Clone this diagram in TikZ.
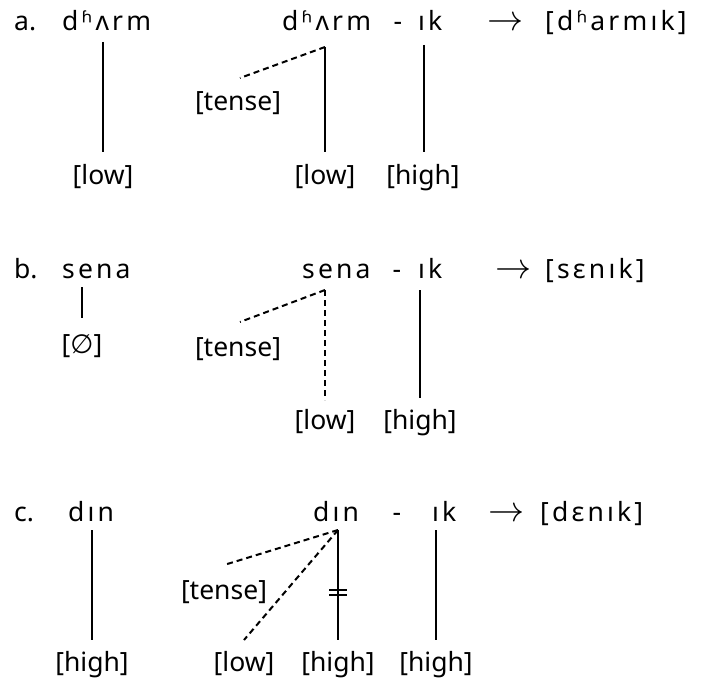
\documentclass[tikz,border=0pt]{standalone}
\usepackage{fontspec}
\setmainfont{Noto Sans}
\newfontfamily\ipa[LetterSpace=12]{Noto Sans}
\newfontfamily\dv{DejaVu Sans}
\begin{document}
\begin{tikzpicture}[x=1pt,y=-1pt,
  lbl/.style={font=\fontsize{26.5}{30}\selectfont, inner sep=0pt, anchor=base},
  feat/.style={lbl},
  wrd/.style={font=\ipa\fontsize{26.5}{30}\selectfont, inner sep=0pt, anchor=base west},
  arr/.style={font=\fontsize{26}{30}\selectfont, inner sep=0pt, anchor=base west, scale=1.45},
  assoc/.style={line width=2.2pt},
  dlink/.style={line width=2pt, dash pattern=on 6pt off 4pt}]
\useasboundingbox (0,0) rectangle (705,682);
% ---------- a ----------
\node[lbl, anchor=base west] (la) at (14,31) {a.};
\node[wrd] (wa1) at (62,31) {dʱʌrm};
\coordinate (ja1) at (103,42);
\node[feat] (fa1) at (103,185) {[low]};
\draw[assoc] (ja1) -- (103,152);
\node[wrd] (wa2) at (282,31) {dʱʌrm};
\node[lbl] (da) at (398,31) {-};
\node[wrd] (sa) at (418,31) {ık};
\coordinate (ja2) at (325,47);
\node[feat] (ta) at (238,111) {[tense]};
\node[feat] (fa2) at (325,185) {[low]};
\node[feat] (fa3) at (423,185) {[high]};
\coordinate (ka) at (424,45);
\draw[dlink] (ja2) -- (240,78);
\draw[assoc] (ja2) -- (325,152);
\draw[assoc] (ka) -- (424,152);
\node[arr] (ara) at (487,31) {$\rightarrow$};
\node[wrd] (ra) at (545,31) {[dʱarmık]};
% ---------- b ----------
\node[lbl, anchor=base west] (lb) at (14,279) {b.};
\node[wrd] (wb1) at (62,279) {sena};
\coordinate (jb1) at (82,287);
\node[feat] (fb1) at (82,353) {[{\dv ∅}]};
\draw[assoc] (jb1) -- (82,318);
\node[wrd] (wb2) at (302,279) {sena};
\node[lbl] (db) at (397,279) {-};
\node[wrd] (sb) at (418,279) {ık};
\coordinate (jb2) at (325,290);
\node[feat] (tb) at (238,356) {[tense]};
\node[feat] (fb2) at (325,429) {[low]};
\node[feat] (fb3) at (420,429) {[high]};
\coordinate (kb) at (420,290);
\draw[dlink] (jb2) -- (240,322);
\draw[dlink] (jb2) -- (325,400);
\draw[assoc] (kb) -- (420,398);
\node[arr] (arb) at (495,279) {$\rightarrow$};
\node[wrd] (rb) at (545,279) {[sɛnık]};
% ---------- c ----------
\node[lbl, anchor=base west] (lc) at (14,521) {c.};
\node[wrd] (wc1) at (68,521) {dın};
\coordinate (jc1) at (92,530);
\node[feat] (fc1) at (92,671) {[high]};
\draw[assoc] (jc1) -- (92,640);
\node[wrd] (wc2) at (313,521) {dın};
\node[lbl] (dc) at (397,521) {-};
\node[wrd] (sc) at (432,521) {ık};
\coordinate (jc2) at (338,530);
\node[feat] (tc) at (224,599) {[tense]};
\node[feat] (fc2) at (244,671) {[low]};
\node[feat] (fc3) at (338,671) {[high]};
\node[feat] (fc4) at (436,671) {[high]};
\coordinate (kc) at (436,530);
\draw[dlink] (jc2) -- (224,565);
\draw[dlink] (jc2) -- (244,640);
\draw[assoc] (jc2) -- (338,640);
\draw[assoc] (329,590) -- (347,590) (329,595) -- (347,595);
\draw[assoc] (kc) -- (436,640);
\node[arr] (arc) at (488,521) {$\rightarrow$};
\node[wrd] (rc) at (540,521) {[dɛnık]};
\end{tikzpicture}
\end{document}
